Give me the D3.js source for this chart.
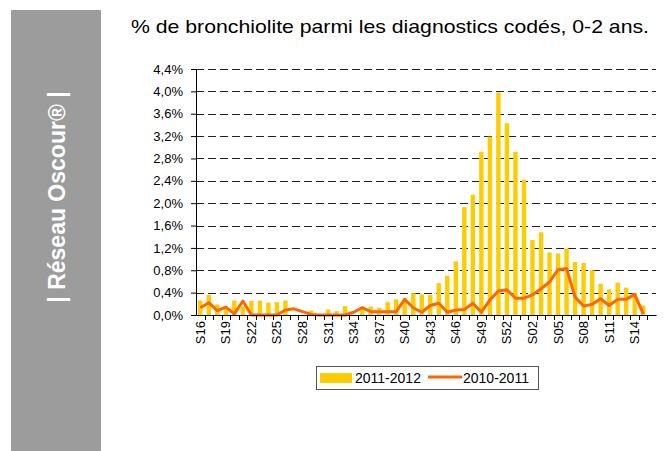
<!DOCTYPE html>
<html>
<head>
<meta charset="utf-8">
<script src="https://cdn.jsdelivr.net/npm/d3@7"></script>
<style>
  body { margin: 0; background: white; }
  text { font-family: "Liberation Sans", Arial, sans-serif; }
</style>
</head>
<body>
<div id="chart"></div>
<script>
// Week labels: S16..S53 then S01..S16
const weeks = [
  "S16", "S17", "S18", "S19", "S20", "S21", "S22", "S23", "S24", "S25",
  "S26", "S27", "S28", "S29", "S30", "S31", "S32", "S33", "S34", "S35",
  "S36", "S37", "S38", "S39", "S40", "S41", "S42", "S43", "S44", "S45",
  "S46", "S47", "S48", "S49", "S50", "S51", "S52", "S53", "S01", "S02",
  "S03", "S04", "S05", "S06", "S07", "S08", "S09", "S10", "S11", "S12",
  "S13", "S14", "S15", "S16 "
];

// % bronchiolite 2011-2012 (bars)
const season1112 = [
  0.26, 0.36, 0.19, 0.15, 0.26, 0.15, 0.25, 0.26, 0.22, 0.23,
  0.26, 0, 0, 0.08, 0, 0.10, 0.07, 0.16, 0, 0.15,
  0.15, 0.13, 0.23, 0.28, 0.30, 0.39, 0.37, 0.36, 0.57, 0.70,
  0.96, 1.93, 2.15, 2.92, 3.19, 3.98, 3.43, 2.92, 2.42, 1.34,
  1.48, 1.12, 1.10, 1.19, 0.95, 0.93, 0.80, 0.56, 0.46, 0.58,
  0.49, 0.39, 0.17, null
];

// % bronchiolite 2010-2011 (line)
const season1011 = [
  0.13, 0.22, 0.08, 0.14, 0.02, 0.25, 0, 0, 0, 0,
  0.09, 0.11, 0.06, 0.01, 0, 0, 0, 0, 0.05, 0.13,
  0.06, 0.06, 0.06, 0.06, 0.28, 0.13, 0.05, 0.17, 0.21, 0.05,
  0.09, 0.10, 0.21, 0.05, 0.27, 0.43, 0.45, 0.30, 0.30, 0.36,
  0.47, 0.59, 0.81, 0.83, 0.32, 0.16, 0.19, 0.29, 0.17, 0.28,
  0.28, 0.37, 0.02, null
];

const yTicks = [0, 0.4, 0.8, 1.2, 1.6, 2.0, 2.4, 2.8, 3.2, 3.6, 4.0, 4.4];
const seriesNames = ["2011-2012", "2010-2011"];

let width = 669, height = 451;
let margin = { top: 69, bottom: 136, left: 196, right: 13 };

let svg = d3.select("#chart")
  .append("svg")
  .attr("width", width)
  .attr("height", height)
  .style("background", "white");

// Gray side panel with vertical caption
svg.append("rect")
  .attr("x", 11)
  .attr("y", 10)
  .attr("width", 90)
  .attr("height", 441)
  .attr("fill", "#9c9c9c");

svg.append("text")
  .attr("transform", "translate(57,197) rotate(-90)")
  .attr("text-anchor", "middle")
  .attr("dy", "0.35em")
  .style("font-size", "23px")
  .style("font-weight", "bold")
  .attr("fill", "white")
  .text("| Réseau Oscour® |");

// Title
svg.append("text")
  .attr("x", 131)
  .attr("y", 33)
  .style("font-size", "19px")
  .attr("textLength", 518)
  .attr("lengthAdjust", "spacingAndGlyphs")
  .attr("fill", "black")
  .text("% de bronchiolite parmi les diagnostics codés, 0-2 ans.");

// Scales
let xScale = d3.scaleBand()
  .domain(weeks)
  .range([margin.left, width - margin.right])
  .padding(0);

let yScale = d3.scaleLinear()
  .domain([0, 4.4])
  .range([height - margin.bottom, margin.top]);

// Dashed gridlines
svg.append("g")
  .selectAll("line")
  .data(yTicks.slice(1))
  .enter()
  .append("line")
  .attr("x1", margin.left)
  .attr("x2", width - margin.right)
  .attr("y1", d => Math.round(yScale(d)) + 0.5)
  .attr("y2", d => Math.round(yScale(d)) + 0.5)
  .attr("stroke", "#222")
  .attr("stroke-width", 1)
  .attr("stroke-dasharray", "8,4");

// Bars 2011-2012
let barW = xScale.bandwidth() * 0.52;
svg.append("g")
  .selectAll("rect")
  .data(weeks.map((w, i) => ({ w: w, v: season1112[i] })).filter(d => d.v !== null))
  .enter()
  .append("rect")
  .attr("x", d => xScale(d.w) + (xScale.bandwidth() - barW) / 2)
  .attr("y", d => yScale(d.v))
  .attr("width", barW)
  .attr("height", d => yScale(0) - yScale(d.v))
  .attr("fill", "#FFCC00");

// Line 2010-2011
let line = d3.line()
  .defined(d => d.v !== null)
  .x(d => xScale(d.w) + xScale.bandwidth() / 2)
  .y(d => yScale(d.v));

svg.append("path")
  .datum(weeks.map((w, i) => ({ w: w, v: season1011[i] })))
  .attr("d", line)
  .attr("fill", "none")
  .attr("stroke", "#FF6600")
  .attr("stroke-width", 3)
  .attr("stroke-linejoin", "round");

// Y axis
let yAxis = svg.append("g")
  .attr("transform", `translate(${margin.left},0)`)
  .call(d3.axisLeft(yScale)
    .tickValues(yTicks)
    .tickSize(5)
    .tickPadding(8)
    .tickFormat(d => d.toFixed(1).replace(".", ",") + "%"));
yAxis.select(".domain").attr("stroke", "black");
yAxis.selectAll("text").style("font-size", "13px").attr("fill", "black")
  .style("font-family", "'Liberation Sans', Arial, sans-serif");

// X axis: labels every 3rd week, ticks between categories
let xAxis = svg.append("g")
  .attr("transform", `translate(0,${yScale(0)})`)
  .call(d3.axisBottom(xScale)
    .tickSize(0)
    .tickFormat((d, i) => i % 3 === 0 ? d : ""));
xAxis.select(".domain").attr("stroke", "black");
xAxis.selectAll("text")
  .attr("transform", "rotate(-90)")
  .attr("x", -6)
  .attr("y", 0)
  .attr("dy", "0.35em")
  .style("text-anchor", "end")
  .style("font-size", "13px")
  .style("font-family", "'Liberation Sans', Arial, sans-serif")
  .attr("fill", "black");

xAxis.selectAll(".sep")
  .data(weeks.slice(1))
  .enter()
  .append("line")
  .attr("class", "sep")
  .attr("x1", d => Math.round(xScale(d)) + 0.5)
  .attr("x2", d => Math.round(xScale(d)) + 0.5)
  .attr("y1", 0)
  .attr("y2", 5)
  .attr("stroke", "black");

// Legend
let legend = svg.append("g");
legend.append("rect")
  .attr("x", 316.5)
  .attr("y", 366.5)
  .attr("width", 222)
  .attr("height", 23)
  .attr("fill", "white")
  .attr("stroke", "#555");

legend.append("rect")
  .attr("x", 320)
  .attr("y", 373)
  .attr("width", 32)
  .attr("height", 10)
  .attr("fill", "#FFCC00");

legend.append("text")
  .attr("x", 355)
  .attr("y", 383)
  .style("font-size", "14px")
  .text(seriesNames[0]);

legend.append("line")
  .attr("x1", 428)
  .attr("x2", 462)
  .attr("y1", 377)
  .attr("y2", 377)
  .attr("stroke", "#FF6600")
  .attr("stroke-width", 3);

legend.append("text")
  .attr("x", 463)
  .attr("y", 383)
  .style("font-size", "14px")
  .text(seriesNames[1]);
</script>
</body>
</html>
